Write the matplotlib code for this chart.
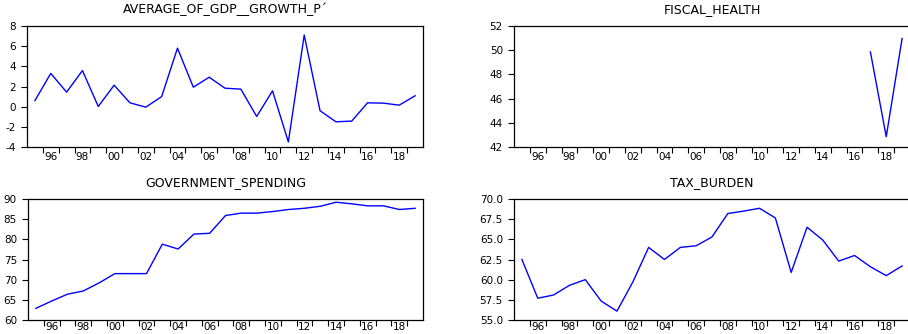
import matplotlib
matplotlib.use("Agg")
import matplotlib.pyplot as plt
from matplotlib.ticker import FixedLocator, FormatStrFormatter

years = list(range(1995, 2020))

gdp_growth = [0.6, 3.3, 1.44, 3.58, 0.02, 2.13, 0.38, -0.05, 1.0, 5.8,
              1.93, 2.92, 1.83, 1.74, -0.97, 1.57, -3.5, 7.1, -0.4, -1.5,
              -1.43, 0.38, 0.35, 0.15, 1.08]

fiscal_years = [2017, 2018, 2019]
fiscal_health = [49.86, 42.85, 50.96]

gov_spending = [62.9, 64.7, 66.4, 67.2, 69.2, 71.5, 71.5, 71.5, 78.8, 77.6,
                81.3, 81.5, 85.9, 86.5, 86.5, 86.9, 87.4, 87.7, 88.2, 89.2,
                88.8, 88.3, 88.3, 87.4, 87.7]

tax_burden = [62.5, 57.7, 58.1, 59.3, 60.0, 57.35, 56.1, 59.7, 64.0, 62.5,
              64.0, 64.2, 65.3, 68.2, 68.5, 68.85, 67.65, 60.9, 66.5, 64.9,
              62.3, 63.0, 61.6, 60.5, 61.7]

titles = ["AVERAGE_OF_GDP__GROWTH_P\u00b4", "FISCAL_HEALTH",
          "GOVERNMENT_SPENDING", "TAX_BURDEN"]
label_years = list(range(1996, 2019, 2))
label_texts = ["%02d" % (y % 100) for y in label_years]

plt.rcParams['font.family'] = ['DejaVu Sans']

W, H = 908, 334
fig = plt.figure(figsize=(W / 100, H / 100), dpi=100)

def box(l, r, t, b):
    return [l / W, 1 - b / H, (r - l) / W, (b - t) / H]

specs = [
    (box(27, 423, 26, 147), years, gdp_growth, (-4, 8), list(range(-4, 9, 2)), "%d", 3.5),
    (box(514, 910, 26, 147), fiscal_years, fiscal_health, (42, 52), list(range(42, 53, 2)), "%d", 3.5),
    (box(28, 423, 199, 320), years, gov_spending, (60, 90), list(range(60, 91, 5)), "%d", 1.5),
    (box(514, 910, 199, 320), years, tax_burden, (55, 70), [55, 57.5, 60, 62.5, 65, 67.5, 70], "%.1f", 1.5),
]

for (rect, xs, ys, ylim, yticks, fmt, xpad), title in zip(specs, titles):
    ax = fig.add_axes(rect)
    ax.plot(xs, ys, color=(0, 0, 1), lw=1.0)
    ax.set_xlim(1994.5, 2019.5)
    ax.set_ylim(*ylim)
    ax.set_yticks(yticks)
    ax.yaxis.set_major_formatter(FormatStrFormatter(fmt))
    # tick marks at year boundaries, labels at even years
    ax.xaxis.set_major_locator(FixedLocator([y + 0.5 for y in range(1995, 2019)]))
    ax.xaxis.set_major_formatter(plt.NullFormatter())
    ax.xaxis.set_minor_locator(FixedLocator(label_years))
    ax.set_xticklabels(label_texts, minor=True)
    ax.tick_params(axis='x', which='major', direction='out', length=4, width=0.8)
    ax.tick_params(axis='x', which='minor', length=0, pad=xpad, labelsize=7.5)
    ax.tick_params(axis='y', direction='out', length=4, width=0.8, labelsize=7.5, pad=4)
    for s in ax.spines.values():
        s.set_linewidth(0.9)
    ax.set_title(title, fontsize=9, pad=9)

fig.savefig("out.png", dpi=100)
